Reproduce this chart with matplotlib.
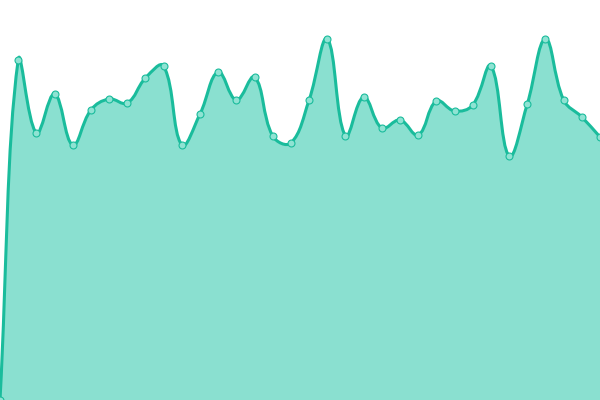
#!/usr/bin/env python

import numpy as np
import matplotlib
matplotlib.use('Agg')
import matplotlib.pyplot as plt
from matplotlib.path import Path
from matplotlib.patches import PathPatch

# values (axis runs 0..400)
values = [0, 340, 267, 306, 255, 290, 301, 297, 322, 334, 255, 286, 328, 300,
          323, 264, 257, 300, 361, 264, 303, 272, 280, 265, 299, 289, 295, 334,
          244, 296, 361, 300, 283, 263]

LINE = '#1abc9c'
FILL = '#8ae0d0'
POINT = '#8fe3d3'


def spline_controls(xs, ys, tension=0.4):
    # same idea as Chart.js splineCurve
    n = len(xs)
    c1 = []
    c2 = []
    for i in range(n):
        p = (xs[max(i - 1, 0)], ys[max(i - 1, 0)])
        c = (xs[i], ys[i])
        nx = (xs[min(i + 1, n - 1)], ys[min(i + 1, n - 1)])
        d01 = np.hypot(c[0] - p[0], c[1] - p[1])
        d12 = np.hypot(nx[0] - c[0], nx[1] - c[1])
        tot = d01 + d12
        s01 = d01 / tot if tot else 0
        s12 = d12 / tot if tot else 0
        fa = tension * s01
        fb = tension * s12
        c1.append((c[0] - fa * (nx[0] - p[0]), c[1] - fa * (nx[1] - p[1])))
        c2.append((c[0] + fb * (nx[0] - p[0]), c[1] + fb * (nx[1] - p[1])))
    return c1, c2


def main():
    xs = np.linspace(0, 600, len(values))
    ys = np.array(values, dtype=float)
    c1, c2 = spline_controls(xs, ys)
    c1 = [(min(max(a, 0), 600), min(max(b, 0), 400)) for a, b in c1]
    c2 = [(min(max(a, 0), 600), min(max(b, 0), 400)) for a, b in c2]

    verts = [(xs[0], ys[0])]
    codes = [Path.MOVETO]
    for i in range(1, len(xs)):
        verts += [c2[i - 1], c1[i], (xs[i], ys[i])]
        codes += [Path.CURVE4] * 3

    fig = plt.figure(figsize=(6, 4), dpi=100)
    ax = fig.add_axes([0, 0, 1, 1])
    ax.set_xlim(0, 600)
    ax.set_ylim(0, 400)
    ax.axis('off')

    fverts = verts + [(xs[-1], 0), (xs[0], 0), (xs[0], ys[0])]
    fcodes = codes + [Path.LINETO, Path.LINETO, Path.CLOSEPOLY]
    ax.add_patch(PathPatch(Path(fverts, fcodes), facecolor=FILL, edgecolor='none'))
    ax.add_patch(PathPatch(Path(verts, codes), facecolor='none', edgecolor=LINE,
                           linewidth=2.2, capstyle='round', joinstyle='round'))
    ax.plot(xs, ys, linestyle='none', marker='o', markersize=5,
            markerfacecolor=POINT, markeredgecolor=LINE, markeredgewidth=0.8,
            clip_on=False)

    fig.savefig('out.png', dpi=100)


if __name__ == '__main__':
    main()
